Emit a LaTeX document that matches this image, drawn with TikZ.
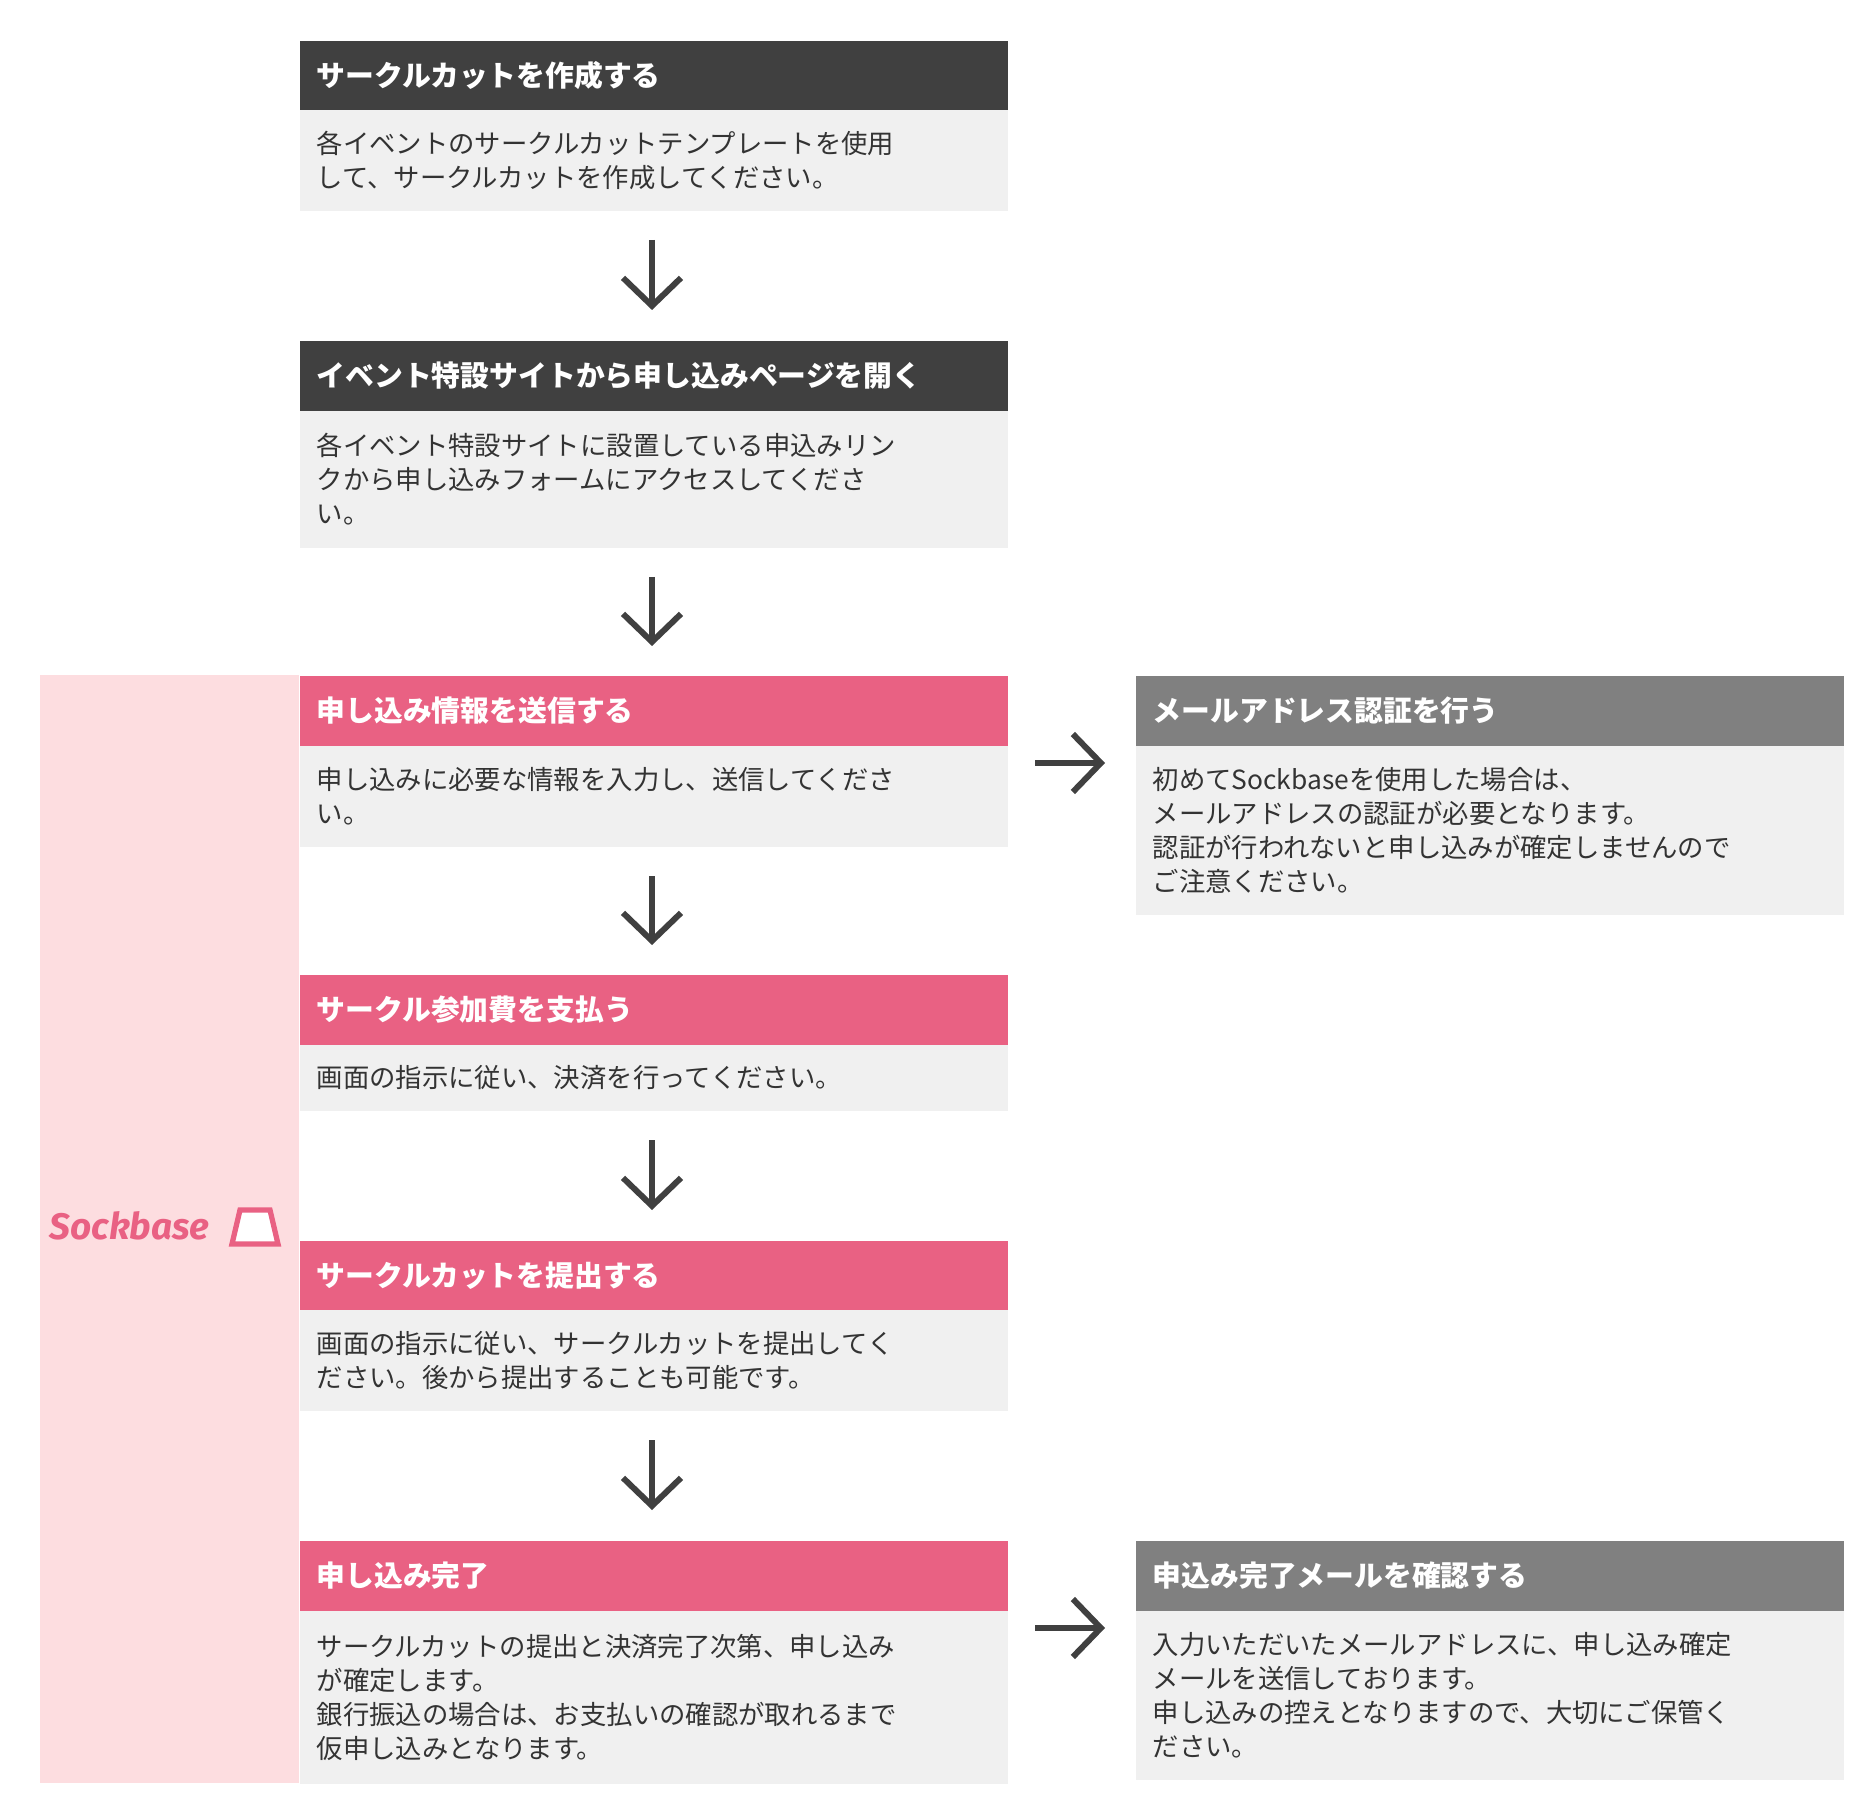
\documentclass[tikz,border=0pt]{standalone}
\usepackage{fontspec}
\setmainfont{Noto Sans CJK JP}
\newfontfamily\logofont{Fira Sans}
\usetikzlibrary{positioning}
\usetikzlibrary{arrows.meta}

\definecolor{headdark}{HTML}{404040}
\definecolor{headgray}{HTML}{808080}
\definecolor{headpink}{HTML}{E96183}
\definecolor{bodygray}{HTML}{F0F0F0}
\definecolor{bandpink}{HTML}{FDDDE0}
\definecolor{arrowgray}{HTML}{404040}

\tikzset{
  head/.style={anchor=north west,text=white,inner xsep=0.17cm,inner ysep=0pt,
    text width=6.74cm,minimum height=0.70cm,align=left,
    font=\fontsize{8.2}{10}\selectfont\bfseries},
  body/.style={anchor=north west,fill=bodygray,text=black!80,inner xsep=0.17cm,inner ysep=0pt,
    text width=6.74cm,align=left,font=\fontsize{7.5}{9.7}\selectfont},
  flow/.style={line width=1.7pt,draw=arrowgray,-{Straight Barb[length=0.28cm,width=0.58cm,line width=1.7pt]}}
}

\begin{document}
\begin{tikzpicture}
\useasboundingbox (0,0) rectangle (18.74,-18.14);

% pink band for Sockbase steps
\fill[bandpink] (0.40,-6.75) rectangle (2.99,-17.83);
\node[font=\logofont\bfseries\itshape\fontsize{10.5}{12}\selectfont,text=headpink,anchor=east] (logo) at (2.22,-12.26) {Sockbase};
\draw[headpink,line width=1.5pt,fill=white] (2.32,-12.44) -- (2.40,-12.10) -- (2.70,-12.10) -- (2.78,-12.44) -- cycle;

% left column
\node[head,fill=headdark] (h1) at (2.99,-0.40) {サークルカットを作成する};
\node[body,minimum height=1.01cm] (b1) at (2.99,-1.09) {各イベントのサークルカットテンプレートを使用\\して、サークルカットを作成してください。};

\node[head,fill=headdark] (h2) at (2.99,-3.40) {イベント特設サイトから申し込みページを開く};
\node[body,minimum height=1.37cm] (b2) at (2.99,-4.10) {各イベント特設サイトに設置している申込みリン\\クから申し込みフォームにアクセスしてくださ\\い。};

\node[head,fill=headpink] (h3) at (2.99,-6.75) {申し込み情報を送信する};
\node[body,minimum height=1.01cm] (b3) at (2.99,-7.45) {申し込みに必要な情報を入力し、送信してくださ\\い。};

\node[head,fill=headpink] (h4) at (2.99,-9.74) {サークル参加費を支払う};
\node[body,minimum height=0.66cm] (b4) at (2.99,-10.44) {画面の指示に従い、決済を行ってください。};

\node[head,fill=headpink] (h5) at (2.99,-12.40) {サークルカットを提出する};
\node[body,minimum height=1.01cm] (b5) at (2.99,-13.09) {画面の指示に従い、サークルカットを提出してく\\ださい。後から提出することも可能です。};

\node[head,fill=headpink] (h6) at (2.99,-15.40) {申し込み完了};
\node[body,minimum height=1.73cm] (b6) at (2.99,-16.10) {サークルカットの提出と決済完了次第、申し込み\\が確定します。\\銀行振込の場合は、お支払いの確認が取れるまで\\仮申し込みとなります。};

% right column
\node[head,fill=headgray] (r1) at (11.35,-6.75) {メールアドレス認証を行う};
\node[body,minimum height=1.69cm] (s1) at (11.35,-7.45) {初めてSockbaseを使用した場合は、\\メールアドレスの認証が必要となります。\\認証が行われないと申し込みが確定しませんので\\ご注意ください。};

\node[head,fill=headgray] (r2) at (11.35,-15.40) {申込み完了メールを確認する};
\node[body,minimum height=1.69cm] (s2) at (11.35,-16.10) {入力いただいたメールアドレスに、申し込み確定\\メールを送信しております。\\申し込みの控えとなりますので、大切にご保管く\\ださい。};

% arrows
\coordinate (a1s) at (6.52,-2.40); \coordinate (a1e) at (6.52,-3.10);
\coordinate (a2s) at (6.52,-5.77); \coordinate (a2e) at (6.52,-6.46);
\coordinate (a3s) at (6.52,-8.76); \coordinate (a3e) at (6.52,-9.45);
\coordinate (a4s) at (6.52,-11.40); \coordinate (a4e) at (6.52,-12.10);
\coordinate (a5s) at (6.52,-14.40); \coordinate (a5e) at (6.52,-15.10);
\coordinate (c1s) at (10.35,-7.63); \coordinate (c1e) at (11.05,-7.63);
\coordinate (c2s) at (10.35,-16.28); \coordinate (c2e) at (11.05,-16.28);
\foreach \p in {a1,a2,a3,a4,a5,c1,c2}
  \draw[flow] (\p s) -- (\p e);
\end{tikzpicture}
\end{document}
